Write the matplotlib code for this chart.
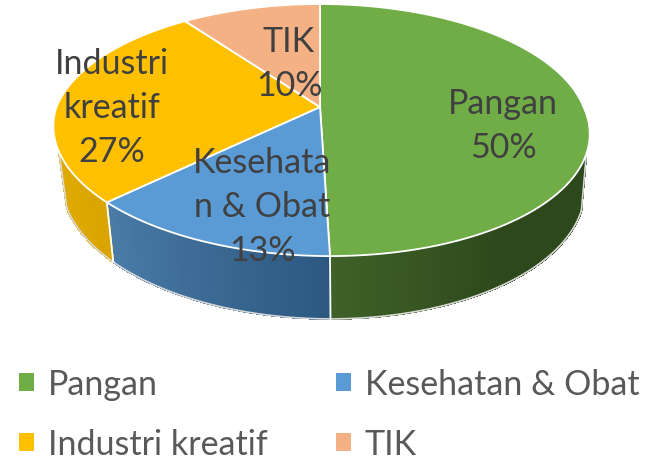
import numpy as np
import matplotlib
matplotlib.use("Agg")
import matplotlib.pyplot as plt
from matplotlib.patches import Polygon, Patch

categories = ["Pangan", "Kesehatan & Obat", "Industri kreatif", "TIK"]
values = [50, 13, 27, 10]
slice_labels = ["Pangan\n50%", "Kesehata\nn & Obat\n13%", "Industri\nkreatif\n27%", "TIK\n10%"]
colors = ["#70AD47", "#5B9BD5", "#FFC000", "#F4B183"]
side_start = ["#3F6128", "#4A7CA8", "#E0AB00", "#C98F68"]
side_end = ["#2D481B", "#2C5880", "#D9A400", "#C98F68"]
label_pos = [(503, 126), (262, 207), (112, 108), (289, 64)]

plt.rcParams["font.family"] = ["Lato", "DejaVu Sans"]
fig = plt.figure(figsize=(6.54, 4.6), dpi=100)
ax = fig.add_axes([0, 0, 1, 1])
ax.set_xlim(0, 654)
ax.set_ylim(460, 0)
ax.axis("off")

K = 0.183
WALL_FROM, WALL_TO = np.radians(111), np.radians(250)


def project(theta, cx, ay, R, S, shear):
    x, y = np.sin(theta), np.cos(theta)
    w = 1 + K * y
    sx, sy = R * x / w, -S * y / w
    sx = sx + shear * np.clip(sy, 0, None) / 149
    return cx + sx, ay + sy


top = dict(cx=320, ay=108, R=263.5, S=121.8, shear=10)
bot = dict(cx=322, ay=162, R=257, S=129, shear=8)

edges = np.concatenate([[0], np.cumsum(values)]) / np.sum(values) * 2 * np.pi

# side wall
for i in range(len(values)):
    a0, a1 = max(edges[i], WALL_FROM), min(edges[i + 1], WALL_TO)
    if a1 <= a0:
        continue
    n = max(2, int((a1 - a0) / np.radians(0.5)))
    th = np.linspace(a0, a1, n + 1)
    c0 = np.array(matplotlib.colors.to_rgb(side_start[i]))
    c1 = np.array(matplotlib.colors.to_rgb(side_end[i]))
    for j in range(n):
        t = np.array([th[j], th[j + 1]])
        xt, yt = project(t, **top)
        xb, yb = project(t[::-1], **bot)
        u = 1 - (j + 0.5) / n
        if i == 0:
            u = min(1.0, 2 * u)
        col = c0 * (1 - u) + c1 * u
        ax.add_patch(Polygon(np.c_[np.r_[xt, xb], np.r_[yt, yb]], fc=col, ec=col, lw=0.8,
                             antialiased=False, zorder=2))
    x, y = project(th, **bot)
    ax.plot(x, y, color="#D9D9D9", lw=1.2, zorder=3)
    if edges[i] >= WALL_FROM:
        xt, yt = project(np.array([edges[i]]), **top)
        xb, yb = project(np.array([edges[i]]), **bot)
        ax.plot([xt[0], xb[0]], [yt[0], yb[0]], color="white", lw=1.3, zorder=3)

# silhouette at the two ends of the wall
for a in (WALL_FROM, WALL_TO):
    xt, yt = project(np.array([a]), **top)
    xb, yb = project(np.array([a]), **bot)
    ax.plot([xt[0], xb[0]], [yt[0], yb[0]], color="#D9D9D9", lw=1.2, zorder=3)

# top face
handles = []
for i in range(len(values)):
    th = np.linspace(edges[i], edges[i + 1], 200)
    x, y = project(th, **top)
    px = np.r_[top["cx"], x]
    py = np.r_[top["ay"], y]
    ax.add_patch(Polygon(np.c_[px, py], closed=True, fc=colors[i], ec="white", lw=1.3, zorder=4,
                         joinstyle="round"))
    handles.append(Patch(fc=colors[i], label=categories[i]))

for lab, (lx, ly) in zip(slice_labels, label_pos):
    ax.text(lx, ly, lab, ha="center", va="center", fontsize=24.5, color="#404040",
            linespacing=1.45, zorder=6)

order = [0, 2, 1, 3]
fig.legend(handles=[handles[i] for i in order], loc="lower left", ncol=2, frameon=False,
           bbox_to_anchor=(0.029, -0.002), fontsize=24.5, labelcolor="#595959",
           handlelength=0.44, handleheight=0.44, handletextpad=0.4, columnspacing=2.03,
           labelspacing=0.81, borderpad=0, borderaxespad=0)

fig.savefig("out.png", dpi=100)
